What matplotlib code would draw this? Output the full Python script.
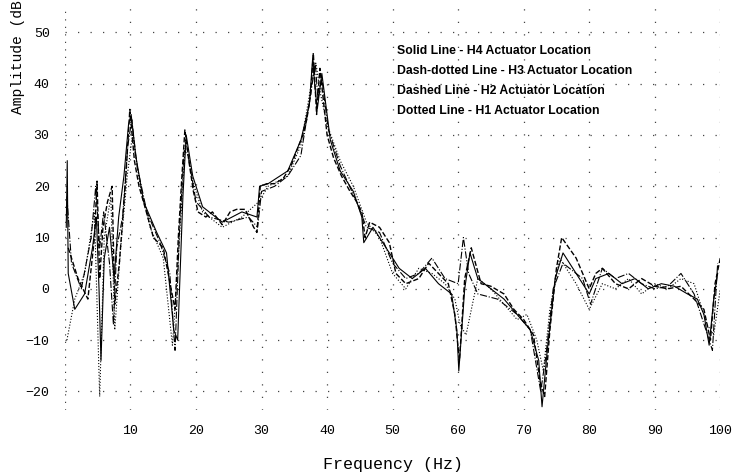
import matplotlib
matplotlib.use("Agg")
import matplotlib.pyplot as plt

# H4 actuator location (solid)
f_h4 = [0.2, 0.35, 0.5, 1.5, 3, 4.2, 4.8, 5.2, 5.5, 6.0, 6.8, 7.5, 8.2, 9.0, 9.7,
        10.1, 10.8, 12, 14, 15.5, 16.6, 17.2, 18.0, 18.5, 19.5, 21, 24, 27, 29.3,
        29.7, 31, 34, 36, 37.3, 37.8, 38.1, 38.5, 39.2, 40.5, 42, 44, 45.3, 45.6,
        47, 49, 51, 53, 55, 57, 59, 59.8, 60.1, 61, 61.8, 63, 65, 67, 69, 71, 72.3,
        72.8, 73.6, 74.8, 76, 78, 80, 81, 83, 85, 87, 89, 91, 93, 95, 96.5, 97.5,
        98.3, 99, 99.6]
a_h4 = [12, 25, 3, -4, -1, 8, 14, 0, -14, 6, 12, 2, 14, 22, 32,
        34, 26, 17, 11, 7, -8, -10, 18, 30, 22, 16, 13, 15, 14,
        20, 20.5, 23, 29, 36, 45, 40, 35, 42, 29, 23, 19, 14, 9,
        12, 8, 4, 2, 4, 1, -1, -8, -16, 0, 7, 2, 0, -2, -5, -8, -14,
        -23, -12, 2, 7, 3, -1, 2, 3, 1, 2, 0, 1, 0.5, -1, -2, -5,
        -11, -2, 3]

# H3 actuator location (dash-dotted)
f_h3 = [0.3, 1, 2.5, 4, 4.7, 5.3, 5.9, 6.8, 7.4, 7.9, 8.8, 9.6, 10.2, 11, 12.5,
        14.5, 16, 16.8, 17.5, 18.2, 18.8, 20, 22, 25, 28, 29.4, 30, 32, 34, 36,
        37.5, 38.2, 38.6, 39.2, 40.2, 42, 44.5, 46, 48, 50, 52, 54, 56, 58, 60,
        60.8, 61.6, 63, 66, 69, 71, 72.6, 73.4, 74.5, 76, 79, 80.2, 82, 84, 86,
        88, 90, 92, 94, 96, 97.8, 98.8, 99.6]
a_h3 = [18, 5, 0, 10, 20, 8, 15, 5, -7, 8, 14, 28, 33, 24, 15,
        9, 3, -12, 12, 27, 26, 17, 14, 13, 14, 12, 19, 20, 22, 26,
        38, 44, 37, 41, 31, 24, 17, 12, 11, 5, 2, 3, 6, 2, 1,
        10, 3, -1, -2, -5, -8, -20, -13, 0, 5, 2, -3, 4, 2, 3,
        1, 0, 0.5, 3, -1, -8, -12, 5]

# H2 actuator location (dashed)
f_h2 = [0.5, 2.0, 3.5, 4.5, 4.9, 5.3, 5.8, 6.5, 7.2, 7.6, 8.3, 9.2, 9.9, 10.6,
        11.3, 12.2, 13.5, 15.0, 16.2, 16.8, 17.3, 17.8, 18.3, 18.9, 19.6, 20.3,
        21.5, 22.5, 24.0, 25.2, 26.2, 27.5, 28.8, 29.3, 29.8, 30.8, 32.0, 33.3,
        34.5, 35.4, 36.3, 36.9, 37.5, 37.9, 38.4, 38.9, 39.5, 40.0, 41.0, 42.2,
        43.5, 44.5, 45.3, 45.8, 46.5, 48.0, 49.5, 50.5, 52, 54, 55.5, 57, 58.5,
        59.5, 60.2, 61, 62, 63.5, 65, 67, 68.5, 70, 71.5, 72.5, 73.2, 74, 75,
        75.8, 78, 80, 81, 82, 84, 86, 88, 90, 92, 94, 96, 97.5, 98.5, 99.2, 100]
a_h2 = [8, 2, -2, 10, 21, 2, 12, 17, 20, -3, 5, 20, 35, 25,
        20, 16, 10, 8, 0, -4, 10, 21, 31, 25, 19, 15,
        14, 15, 12.5, 15, 15.5, 15.5, 12, 11, 20, 20.5, 20.5, 21.5,
        24, 27, 30, 33, 38, 46, 34, 43, 36, 30, 25.5, 22,
        19, 17, 15, 10, 13, 12, 9, 3, 1, 2, 5, 3, 1,
        -5, -14, 2, 8, 1, 0.5, -1, -4, -6, -9, -18, -21, -8, 4,
        10, 6, 0, 3, 4, 1, 0, 2, 0.5, 0, 0.5, -2, -4, -10, 1, 6]

# H1 actuator location (dotted)
f_h1 = [0.3, 1.5, 3, 4.5, 5.3, 6, 7, 7.6, 8.5, 9.5, 10.3, 11.5, 13, 15, 16.4,
        17.2, 18.4, 19.5, 21, 24, 27, 29.6, 31, 34, 36, 37.6, 38.3, 39, 40, 42,
        44, 46, 48, 50, 52, 54, 56, 58, 59.5, 60.3, 61.2, 63, 65, 67, 69, 70.5,
        72, 73, 74, 75.5, 78, 80, 82, 84, 86, 88, 90, 92, 94, 96, 98, 99, 100]
a_h1 = [-10, -2, 3, 15, -21, 10, 18, -8, 8, 22, 30, 20, 12, 6, -11,
        4, 29, 21, 15, 12, 14, 17, 20, 22, 28, 40, 44, 38, 32, 25,
        20, 13, 10, 3, 0, 4, 3, 1, -2, -7, -9, 2, 0, -3, -6, -5,
        -10, -16, -4, 6, 1, -4, 1, 0, 2, -1, 1, 0, 2, 1, -7, -9, 0]

legend_lines = ["Solid Line - H4 Actuator Location",
                "Dash-dotted Line - H3 Actuator Location",
                "Dashed Line - H2 Actuator Location",
                "Dotted Line - H1 Actuator Location"]

x_ticks = [10, 20, 30, 40, 50, 60, 70, 80, 90, 100]
y_ticks = [-20, -10, 0, 10, 20, 30, 40, 50]


def main():
    fig = plt.figure(figsize=(7.38, 4.76), dpi=100)
    ax = fig.add_axes([0.088, 0.139, 0.888, 0.851])

    ax.plot(f_h4, a_h4, color='black', lw=0.8, ls='-')
    ax.plot(f_h3, a_h3, color='black', lw=0.8, ls='-.')
    ax.plot(f_h2, a_h2, color='black', lw=1.0, ls='--')
    ax.plot(f_h1, a_h1, color='black', lw=0.8, ls=':')

    ax.set_xlim(0, 100)
    ax.set_ylim(-23.6, 55.4)
    ax.set_xticks(x_ticks)
    ax.set_yticks(y_ticks)
    ax.grid(True, color='#444444', ls=(0, (1, 9)), lw=0.9)
    for s in ax.spines.values():
        s.set_visible(False)
    ax.axvline(0, color='#444444', ls=(0, (1, 5)), lw=0.9)
    ax.tick_params(length=0, pad=11, labelsize=9.5)
    for lab in ax.get_xticklabels() + ax.get_yticklabels():
        lab.set_family('Liberation Mono')

    ax.set_xlabel('Frequency (Hz)', family='Liberation Mono', fontsize=12, labelpad=14)
    fig.text(0.024, 1.0, 'Amplitude (dB', family='Liberation Mono', fontsize=10.5,
             rotation=90, ha='center', va='top')

    for i, t in enumerate(legend_lines):
        ax.text(50.6, 46.4 - 3.9 * i, t, family='Liberation Sans', weight='bold',
                fontsize=8.8, va='center', ha='left')

    fig.savefig('out.png', dpi=100)


if __name__ == "__main__":
    main()
